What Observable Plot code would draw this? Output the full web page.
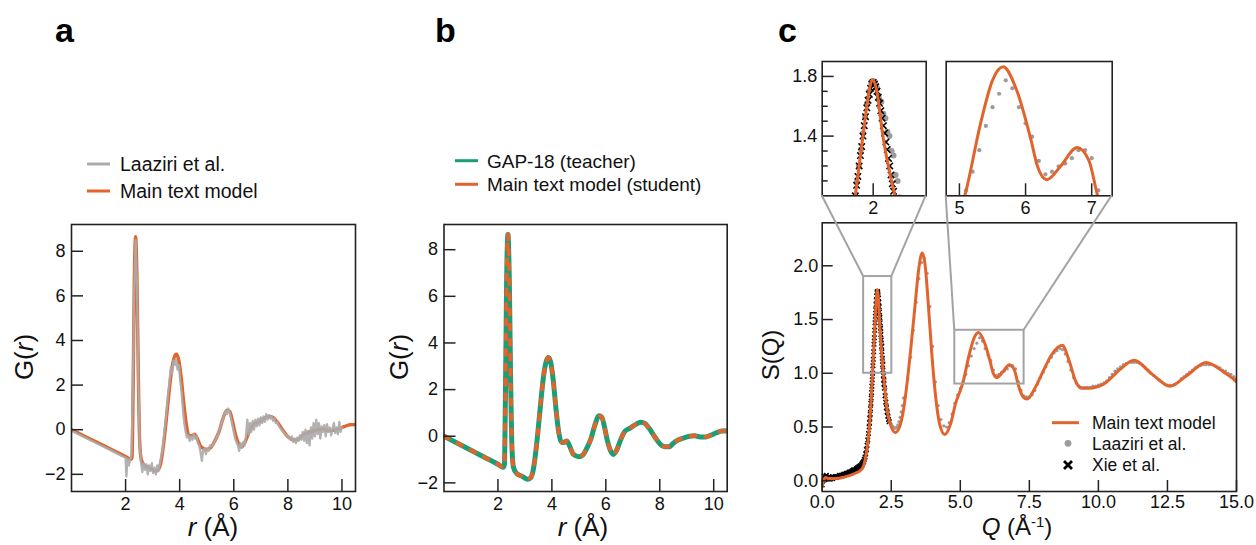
<!DOCTYPE html>
<html><head><meta charset="utf-8">
<script src="https://cdn.jsdelivr.net/npm/d3@7"></script>
<script src="https://cdn.jsdelivr.net/npm/@observablehq/plot@0.6"></script>
<style>
html,body{margin:0;padding:0;background:#fff;}
#fig{position:relative;width:1256px;height:545px;overflow:hidden;background:#fff;}
</style></head><body><div id="fig"></div>
<script>
// ---------------- DATA ----------------
// Panel a/b: G(r) of the main text model (student); GAP-18 teacher is indistinguishable
const gModel = [[0,0],[0.5,-0.3],[1.0,-0.6],[1.5,-0.9],[2.0,-1.2],[2.2,-1.33],[2.24,-1.2],[2.28,2.0],[2.32,6.5],[2.37,8.65],[2.42,6.8],[2.47,2.5],[2.52,-0.5],[2.58,-1.35],[2.7,-1.6],[2.9,-1.72],[3.1,-1.85],[3.2,-1.8],[3.3,-1.5],[3.4,-0.7],[3.5,0.4],[3.6,1.6],[3.7,2.65],[3.8,3.25],[3.87,3.38],[3.95,3.2],[4.05,2.4],[4.15,1.2],[4.25,0.2],[4.35,-0.25],[4.45,-0.27],[4.55,-0.2],[4.65,-0.4],[4.8,-0.78],[5.0,-0.88],[5.15,-0.8],[5.3,-0.5],[5.45,-0.1],[5.6,0.5],[5.75,0.88],[5.85,0.82],[5.95,0.4],[6.05,-0.15],[6.15,-0.55],[6.28,-0.78],[6.4,-0.6],[6.55,-0.15],[6.7,0.2],[6.9,0.35],[7.1,0.5],[7.3,0.6],[7.45,0.55],[7.6,0.35],[7.8,0.0],[8.0,-0.32],[8.2,-0.45],[8.35,-0.45],[8.5,-0.3],[8.7,-0.15],[8.9,-0.07],[9.1,0.0],[9.3,0.02],[9.5,-0.03],[9.7,-0.03],[9.9,0.05],[10.1,0.15],[10.3,0.22],[10.5,0.23]];
const gTeacher = [[0,0],[0.5,-0.3],[1.0,-0.6],[1.5,-0.9],[2.0,-1.2],[2.2,-1.33],[2.24,-1.2],[2.28,2.0],[2.32,6.5],[2.37,8.65],[2.42,6.8],[2.47,2.5],[2.52,-0.5],[2.58,-1.35],[2.7,-1.6],[2.9,-1.72],[3.1,-1.85],[3.2,-1.8],[3.3,-1.5],[3.4,-0.7],[3.5,0.4],[3.6,1.6],[3.7,2.65],[3.8,3.25],[3.87,3.38],[3.95,3.2],[4.05,2.4],[4.15,1.2],[4.25,0.2],[4.35,-0.25],[4.45,-0.27],[4.55,-0.2],[4.65,-0.4],[4.8,-0.78],[5.0,-0.88],[5.15,-0.8],[5.3,-0.5],[5.45,-0.1],[5.6,0.5],[5.75,0.88],[5.85,0.82],[5.95,0.4],[6.05,-0.15],[6.15,-0.55],[6.28,-0.78],[6.4,-0.6],[6.55,-0.15],[6.7,0.2],[6.9,0.35],[7.1,0.5],[7.3,0.6],[7.45,0.55],[7.6,0.35],[7.8,0.0],[8.0,-0.32],[8.2,-0.45],[8.35,-0.45],[8.5,-0.3],[8.7,-0.15],[8.9,-0.07],[9.1,0.0],[9.3,0.02],[9.5,-0.03],[9.7,-0.03],[9.9,0.05],[10.1,0.15],[10.3,0.22],[10.5,0.23]];
// Panel a: Laaziri et al. experimental G(r) (noisy)
const gLaaziri = [[0,-0.05],[0.5,-0.35],[1.0,-0.65],[1.5,-0.95],[1.9,-1.2],[2.0,-1.25],[2.03,-2.1],[2.07,-1.3],[2.12,-1.6],[2.17,-1.35],[2.22,-1.1],[2.27,2.0],[2.32,6.3],[2.37,8.5],[2.42,6.6],[2.47,2.3],[2.52,-0.6],[2.57,-1.5],[2.62,-1.9],[2.67,-1.5],[2.72,-1.8],[2.77,-1.55],[2.82,-2.0],[2.87,-1.6],[2.92,-1.85],[2.97,-1.5],[3.02,-1.95],[3.07,-1.7],[3.12,-2.0],[3.17,-1.6],[3.22,-1.85],[3.27,-1.5],[3.32,-1.2],[3.37,-0.9],[3.42,-0.3],[3.47,0.3],[3.52,0.9],[3.57,1.6],[3.62,2.1],[3.67,2.8],[3.72,2.5],[3.77,3.1],[3.82,2.9],[3.87,3.2],[3.92,2.7],[3.97,2.9],[4.02,2.2],[4.07,1.7],[4.12,0.9],[4.17,0.3],[4.22,-0.1],[4.27,-0.35],[4.32,-0.25],[4.37,-0.5],[4.42,-0.3],[4.47,-0.45],[4.52,-0.2],[4.57,-0.4],[4.62,-0.3],[4.67,-0.6],[4.72,-0.7],[4.77,-1.0],[4.82,-1.4],[4.87,-0.9],[4.92,-0.85],[4.97,-1.1],[5.02,-0.85],[5.07,-0.95],[5.12,-0.7],[5.2,-0.75],[5.3,-0.5],[5.4,-0.25],[5.5,0.1],[5.6,0.5],[5.7,0.85],[5.75,0.7],[5.8,0.95],[5.85,0.75],[5.9,0.5],[5.95,0.2],[6.0,-0.1],[6.05,-0.4],[6.1,-0.55],[6.15,-0.7],[6.2,-0.95],[6.25,-0.6],[6.3,-0.8],[6.35,-0.55],[6.4,-0.7],[6.45,-0.3],[6.5,0.45],[6.55,-0.2],[6.6,0.3],[6.65,-0.1],[6.7,0.4],[6.75,0.0],[6.8,0.45],[6.85,0.15],[6.9,0.5],[6.95,0.2],[7.0,0.55],[7.05,0.3],[7.1,0.6],[7.15,0.35],[7.2,0.7],[7.25,0.45],[7.3,0.65],[7.35,0.5],[7.4,0.6],[7.45,0.4],[7.5,0.5],[7.55,0.3],[7.6,0.35],[7.7,0.1],[7.8,-0.05],[7.9,-0.2],[8.0,-0.3],[8.1,-0.45],[8.15,-0.3],[8.2,-0.55],[8.25,-0.4],[8.3,-0.6],[8.35,-0.35],[8.4,-0.5],[8.45,-0.25],[8.5,-0.45],[8.55,-0.1],[8.6,-0.5],[8.65,0.0],[8.7,-0.6],[8.75,-0.05],[8.8,-0.7],[8.85,0.1],[8.9,-0.4],[8.95,0.3],[9.0,-0.3],[9.05,0.45],[9.1,-0.2],[9.15,0.3],[9.2,-0.4],[9.25,0.15],[9.3,-0.1],[9.35,0.2],[9.4,-0.3],[9.45,0.25],[9.5,-0.1],[9.55,0.1],[9.6,-0.25],[9.65,0.05],[9.7,0.3],[9.75,-0.15],[9.8,0.1],[9.85,-0.2],[9.9,0.35],[9.95,-0.1],[10.0,0.1]];

// Panel c: S(Q)
const sModel = [[0,-0.05],[0.05,0.0],[0.12,0.03],[0.25,0.02],[0.5,0.02],[0.75,0.03],[1.0,0.05],[1.2,0.07],[1.4,0.1],[1.5,0.14],[1.6,0.26],[1.7,0.47],[1.8,0.88],[1.9,1.4],[1.96,1.7],[1.99,1.78],[2.03,1.72],[2.1,1.38],[2.17,1.13],[2.25,0.9],[2.35,0.66],[2.5,0.5],[2.65,0.45],[2.8,0.5],[2.95,0.67],[3.05,0.86],[3.2,1.21],[3.35,1.6],[3.5,1.98],[3.62,2.12],[3.72,2.02],[3.84,1.65],[3.96,1.21],[4.1,0.8],[4.25,0.53],[4.44,0.43],[4.65,0.53],[4.83,0.72],[5.0,0.84],[5.08,0.9],[5.32,1.17],[5.5,1.33],[5.66,1.38],[5.87,1.29],[6.08,1.11],[6.18,1.01],[6.32,0.96],[6.53,1.01],[6.78,1.08],[6.96,1.03],[7.09,0.9],[7.25,0.79],[7.42,0.76],[7.7,0.86],[8.0,1.02],[8.3,1.17],[8.69,1.26],[8.95,1.11],[9.17,0.93],[9.4,0.86],[9.65,0.86],[10.2,0.9],[10.8,1.04],[11.29,1.12],[11.95,0.99],[12.59,0.88],[13.21,0.98],[13.9,1.1],[14.54,1.01],[14.96,0.93],[15.0,0.92]];
const sLaaziri = [[1.5,0.14],[1.54,0.17],[1.58,0.22],[1.62,0.29],[1.66,0.38],[1.7,0.49],[1.72,0.56],[1.74,0.63],[1.76,0.71],[1.78,0.8],[1.8,0.89],[1.82,0.98],[1.84,1.09],[1.86,1.2],[1.88,1.31],[1.9,1.42],[1.92,1.53],[1.94,1.62],[1.96,1.7],[1.98,1.76],[2.0,1.77],[2.02,1.75],[2.04,1.72],[2.06,1.65],[2.08,1.63],[2.1,1.55],[2.12,1.52],[2.14,1.43],[2.16,1.4],[2.18,1.3],[2.2,1.27],[2.22,1.14],[2.24,1.1],[2.26,0.99],[2.28,0.95],[2.3,0.86],[2.32,0.8],[2.34,0.75],[2.36,0.71],[2.38,0.67],[2.4,0.64],[2.42,0.61],[2.46,0.56],[2.5,0.53],[2.54,0.51],[2.58,0.5],[2.62,0.49],[2.66,0.49],[2.7,0.5],[2.74,0.52],[2.78,0.55],[2.82,0.59],[2.86,0.64],[2.9,0.7],[2.94,0.77],[3.0,0.78],[3.1,0.95],[3.2,1.15],[3.3,1.4],[3.4,1.66],[3.5,1.88],[3.6,2.03],[3.7,2.07],[3.8,1.93],[3.9,1.62],[4.0,1.25],[4.1,0.92],[4.2,0.7],[4.3,0.57],[4.4,0.51],[4.5,0.5],[4.6,0.54],[4.7,0.62],[4.8,0.72],[4.9,0.8],[5.0,0.86],[5.1,0.92],[5.2,0.99],[5.3,1.07],[5.4,1.16],[5.5,1.23],[5.6,1.28],[5.7,1.33],[5.8,1.3],[5.9,1.23],[6.0,1.17],[6.1,1.12],[6.2,1.03],[6.3,0.98],[6.4,0.99],[6.5,1.01],[6.6,1.02],[6.7,1.04],[6.8,1.07],[6.9,1.07],[7.0,1.04],[7.1,0.92],[7.2,0.84],[7.3,0.79],[7.4,0.78],[7.5,0.78],[7.6,0.8],[7.7,0.84],[7.8,0.9],[7.9,0.96],[8.0,1.01],[8.1,1.06],[8.2,1.11],[8.3,1.15],[8.4,1.19],[8.5,1.21],[8.6,1.23],[8.7,1.22],[8.8,1.18],[8.9,1.11],[9.0,1.03],[9.1,0.96],[9.2,0.91],[9.3,0.88],[9.4,0.87],[9.5,0.87],[9.6,0.87],[9.7,0.87],[9.8,0.88],[9.9,0.88],[10.0,0.89],[10.1,0.9],[10.2,0.91],[10.3,0.93],[10.4,0.96],[10.5,0.99],[10.6,1.02],[10.7,1.04],[10.8,1.06],[10.9,1.08],[11.0,1.09],[11.1,1.1],[11.2,1.1],[11.3,1.1],[11.4,1.1],[11.5,1.09],[11.6,1.07],[11.7,1.05],[11.8,1.03],[11.9,1.0],[12.0,0.98],[12.1,0.96],[12.2,0.94],[12.3,0.92],[12.4,0.9],[12.5,0.89],[12.6,0.89],[12.7,0.89],[12.8,0.9],[12.9,0.92],[13.0,0.95],[13.1,0.97],[13.2,0.99],[13.3,1.01],[13.4,1.03],[13.5,1.05],[13.6,1.06],[13.7,1.07],[13.8,1.08],[13.9,1.08],[14.0,1.08],[14.1,1.08],[14.2,1.07],[14.3,1.06],[14.4,1.05],[14.5,1.03],[14.6,1.02],[14.7,1.0],[14.8,0.99],[14.9,0.97],[15.0,0.95]];
const sXie = [[0,-0.04],[0.025,0.0],[0.05,0.04],[0.075,0.02],[0.1,0.01],[0.125,0.04],[0.15,0.05],[0.175,0.03],[0.2,0.02],[0.225,0.03],[0.25,0.04],[0.275,0.02],[0.3,0.02],[0.325,0.03],[0.35,0.03],[0.375,0.02],[0.4,0.03],[0.425,0.03],[0.45,0.03],[0.475,0.04],[0.5,0.03],[0.525,0.04],[0.55,0.04],[0.575,0.04],[0.6,0.04],[0.625,0.05],[0.65,0.04],[0.675,0.05],[0.7,0.05],[0.725,0.05],[0.75,0.05],[0.775,0.06],[0.8,0.06],[0.825,0.06],[0.85,0.06],[0.875,0.07],[0.9,0.07],[0.925,0.07],[0.95,0.07],[0.975,0.08],[1.0,0.08],[1.025,0.08],[1.05,0.08],[1.075,0.09],[1.1,0.09],[1.125,0.1],[1.15,0.1],[1.175,0.1],[1.2,0.1],[1.225,0.11],[1.25,0.11],[1.275,0.12],[1.3,0.12],[1.325,0.13],[1.35,0.13],[1.375,0.14],[1.4,0.14],[1.425,0.15],[1.45,0.16],[1.475,0.17],[1.5,0.18],[1.525,0.2],[1.55,0.22],[1.575,0.25],[1.6,0.29],[1.625,0.33],[1.65,0.38],[1.675,0.44],[1.7,0.5],[1.7125,0.54],[1.725,0.58],[1.7375,0.62],[1.75,0.67],[1.7625,0.72],[1.775,0.77],[1.7875,0.82],[1.8,0.88],[1.8125,0.94],[1.825,1.0],[1.8375,1.07],[1.85,1.13],[1.8625,1.2],[1.875,1.27],[1.8875,1.33],[1.9,1.4],[1.9125,1.47],[1.925,1.53],[1.9375,1.59],[1.95,1.64],[1.9625,1.68],[1.975,1.72],[1.9875,1.75],[2.0,1.76],[2.0125,1.75],[2.025,1.73],[2.0375,1.7],[2.05,1.66],[2.0625,1.62],[2.075,1.57],[2.0875,1.52],[2.1,1.47],[2.1125,1.42],[2.125,1.36],[2.1375,1.31],[2.15,1.25],[2.1625,1.2],[2.175,1.14],[2.1875,1.08],[2.2,1.03],[2.2125,0.98],[2.225,0.94],[2.2375,0.9],[2.25,0.86],[2.275,0.79],[2.3,0.73],[2.325,0.68],[2.35,0.64],[2.375,0.6],[2.4,0.57],[2.425,0.55]];

// ticks
const rTicks = [2, 4, 6, 8, 10];
const gTicks = [-2, 0, 2, 4, 6, 8];
const qTicks = [0, 2.5, 5, 7.5, 10, 12.5, 15];
const sTicks = [0, 0.5, 1, 1.5, 2];
const inset1YMajor = [1.4, 1.8];
const inset1YMinor = [1.1, 1.2, 1.3, 1.5, 1.6, 1.7];
const inset1XTicks = [2];
const inset2XTicks = [5, 6, 7];
// zoom windows (Q range, S range)
const zoom1Q = [1.5, 2.52], zoom1S = [1.0, 1.9];
const zoom2Q = [4.8, 7.31], zoom2S = [0.9, 1.4];

// ---------------- STYLE ----------------
const FONT = '"Liberation Sans", Arial, Helvetica, sans-serif';
const ORANGE = "#e2632b", GREEN = "#1a9e74", GRAYA = "#ababab", GRAYC = "#9c9c9c", FRAME = "#222", BOXC = "#a3a3a3";
const fig = document.getElementById("fig");
const X0 = d => d[0], Y1 = d => d[1];

function plotAt(left, top, opts) {
  const svg = Plot.plot({...opts, style: {fontFamily: FONT, fontSize: "18px", color: "#111", background: "none", overflow: "visible"}});
  svg.style.position = "absolute";
  svg.style.left = left + "px";
  svg.style.top = top + "px";
  fig.appendChild(svg);
  return svg;
}
const tickX = (vals, innerH, len) => Plot.ruleX(vals, {x: d => d, insetTop: innerH - len, stroke: FRAME, strokeWidth: 1.5});
const tickY = (vals, innerW, len) => Plot.ruleY(vals, {y: d => d, insetRight: innerW - len, stroke: FRAME, strokeWidth: 1.5});
const fInt = d3.format("d"), f1 = d3.format(".1f");

// ---------------- PANEL A ----------------
const A = {left: 0, top: 200, W: 372, H: 345, ml: 71, mr: 17, mt: 24, mb: 54};
plotAt(A.left, A.top, {
  width: A.W, height: A.H, marginLeft: A.ml, marginRight: A.mr, marginTop: A.mt, marginBottom: A.mb,
  x: {domain: [0, 10.5]}, y: {domain: [-2.77, 9.2]},
  marks: [
    Plot.line(gModel, {x: X0, y: Y1, stroke: ORANGE, strokeWidth: 3.4, curve: "monotone-x", clip: true}),
    Plot.line(gLaaziri, {x: X0, y: Y1, stroke: GRAYA, strokeWidth: 2.3, strokeOpacity: 0.92, clip: true}),
    Plot.frame({stroke: FRAME, strokeWidth: 1.6}),
    tickX(rTicks, A.H - A.mt - A.mb, 12),
    tickY(gTicks, A.W - A.ml - A.mr, 12),
    Plot.axisX(rTicks, {tickSize: 0, tickPadding: 6, tickFormat: fInt, label: null}),
    Plot.axisY(gTicks, {tickSize: 0, tickPadding: 6, tickFormat: fInt, label: null})
  ]
});

// ---------------- PANEL B ----------------
const B = {left: 372, top: 200, W: 372, H: 345, ml: 71.5, mr: 17.3, mt: 24, mb: 54};
plotAt(B.left, B.top, {
  width: B.W, height: B.H, marginLeft: B.ml, marginRight: B.mr, marginTop: B.mt, marginBottom: B.mb,
  x: {domain: [0, 10.5]}, y: {domain: [-2.37, 9.08]},
  marks: [
    Plot.line(gTeacher, {x: X0, y: Y1, stroke: GREEN, strokeWidth: 5, curve: "monotone-x", clip: true}),
    Plot.line(gModel, {x: X0, y: Y1, stroke: ORANGE, strokeWidth: 4, strokeDasharray: "5 10", curve: "monotone-x", clip: true}),
    Plot.frame({stroke: FRAME, strokeWidth: 1.6}),
    tickX(rTicks, B.H - B.mt - B.mb, 12),
    tickY(gTicks, B.W - B.ml - B.mr, 12),
    Plot.axisX(rTicks, {tickSize: 0, tickPadding: 6, tickFormat: fInt, label: null}),
    Plot.axisY(gTicks, {tickSize: 0, tickPadding: 6, tickFormat: fInt, label: null})
  ]
});

// ---------------- PANEL C INSETS ----------------
const I1 = {left: 760, top: 40, W: 175, H: 190, ml: 61.7, mr: 9.3, mt: 21, mb: 34.7};
const in1 = plotAt(I1.left, I1.top, {
  width: I1.W, height: I1.H, marginLeft: I1.ml, marginRight: I1.mr, marginTop: I1.mt, marginBottom: I1.mb,
  x: {domain: zoom1Q}, y: {domain: zoom1S},
  marks: [
    Plot.dot(sLaaziri, {x: X0, y: Y1, r: 3, fill: GRAYC, clip: true}),
    Plot.dot(sXie, {x: X0, y: Y1, symbol: "times", r: 3, stroke: "#000", strokeWidth: 1.6, clip: true}),
    Plot.line(sModel, {x: X0, y: Y1, stroke: ORANGE, strokeWidth: 3, curve: "monotone-x", clip: true}),
    Plot.frame({stroke: FRAME, strokeWidth: 1.6}),
    tickX(inset1XTicks, I1.H - I1.mt - I1.mb, 12),
    tickY(inset1YMajor, I1.W - I1.ml - I1.mr, 12),
    tickY(inset1YMinor, I1.W - I1.ml - I1.mr, 6),
    Plot.axisX(inset1XTicks, {tickSize: 0, tickPadding: 5, tickFormat: fInt, label: null}),
    Plot.axisY(inset1YMajor, {tickSize: 0, tickPadding: 5, tickFormat: f1, label: null})
  ]
});
const I2 = {left: 930, top: 40, W: 200, H: 190, ml: 15.7, mr: 18.3, mt: 21, mb: 34.7};
const in2 = plotAt(I2.left, I2.top, {
  width: I2.W, height: I2.H, marginLeft: I2.ml, marginRight: I2.mr, marginTop: I2.mt, marginBottom: I2.mb,
  x: {domain: zoom2Q}, y: {domain: zoom2S},
  marks: [
    Plot.dot(sLaaziri, {x: X0, y: Y1, r: 2.1, fill: GRAYC, clip: true}),
    Plot.line(sModel, {x: X0, y: Y1, stroke: ORANGE, strokeWidth: 3, curve: "monotone-x", clip: true}),
    Plot.frame({stroke: FRAME, strokeWidth: 1.6}),
    tickX(inset2XTicks, I2.H - I2.mt - I2.mb, 12),
    Plot.axisX(inset2XTicks, {tickSize: 0, tickPadding: 5, tickFormat: fInt, label: null}),
    Plot.axisY([], {tickSize: 0, label: null})
  ]
});

// ---------------- PANEL C MAIN ----------------
const C = {left: 744, top: 200, W: 512, H: 345, ml: 77.7, mr: 20, mt: 22.3, mb: 54};
const zoomBoxes = [{q: zoom1Q, s: zoom1S}, {q: zoom2Q, s: zoom2S}];
const cMain = plotAt(C.left, C.top, {
  width: C.W, height: C.H, marginLeft: C.ml, marginRight: C.mr, marginTop: C.mt, marginBottom: C.mb,
  x: {domain: [0, 15]}, y: {domain: [-0.1, 2.4]},
  marks: [
    Plot.dot(sLaaziri, {x: X0, y: Y1, r: 1.6, fill: GRAYC, clip: true}),
    Plot.dot(sXie, {x: X0, y: Y1, symbol: "times", r: 2.2, stroke: "#000", strokeWidth: 1.5, clip: true}),
    Plot.line(sModel, {x: X0, y: Y1, stroke: ORANGE, strokeWidth: 3, curve: "monotone-x", clip: true}),
    Plot.rect(zoomBoxes, {x1: d => d.q[0], x2: d => d.q[1], y1: d => d.s[0], y2: d => d.s[1], fill: "none", stroke: BOXC, strokeWidth: 2}),
    Plot.frame({stroke: FRAME, strokeWidth: 1.6}),
    tickX(qTicks, C.H - C.mt - C.mb, 11),
    tickY(sTicks, C.W - C.ml - C.mr, 11),
    Plot.axisX(qTicks, {tickSize: 0, tickPadding: 4, tickFormat: f1, label: null}),
    Plot.axisY(sTicks, {tickSize: 0, tickPadding: 4, tickFormat: f1, label: null})
  ]
});

// ---------------- OVERLAY: connectors, labels, legends ----------------
const ov = d3.select(fig).append("svg")
  .attr("width", 1256).attr("height", 545)
  .style("position", "absolute").style("left", "0px").style("top", "0px")
  .style("overflow", "visible").style("font-family", FONT).style("pointer-events", "none");

const cx = cMain.scale("x"), cy = cMain.scale("y");
const i1x = in1.scale("x"), i1y = in1.scale("y"), i2x = in2.scale("x"), i2y = in2.scale("y");
const MX = v => C.left + cx.apply(v), MY = v => C.top + cy.apply(v);
const connectors = [
  [I1.left + i1x.apply(zoom1Q[0]), I1.top + i1y.apply(zoom1S[0]), MX(zoom1Q[0]), MY(zoom1S[1])],
  [I1.left + i1x.apply(zoom1Q[1]), I1.top + i1y.apply(zoom1S[0]), MX(zoom1Q[1]), MY(zoom1S[1])],
  [I2.left + i2x.apply(zoom2Q[0]), I2.top + i2y.apply(zoom2S[0]), MX(zoom2Q[0]), MY(zoom2S[1])],
  [I2.left + i2x.apply(zoom2Q[1]), I2.top + i2y.apply(zoom2S[0]), MX(zoom2Q[1]), MY(zoom2S[1])]
];
ov.selectAll("line.conn").data(connectors).join("line").attr("class", "conn")
  .attr("x1", d => d[0]).attr("y1", d => d[1]).attr("x2", d => d[2]).attr("y2", d => d[3])
  .attr("stroke", BOXC).attr("stroke-width", 2);

// panel letters
[["a", 55], ["b", 435], ["c", 778]].forEach(([t, x]) =>
  ov.append("text").attr("x", x).attr("y", 42).attr("font-size", 34).attr("font-weight", "bold").attr("fill", "#000").text(t));

// axis labels
function axisLabel(x, y, size, rotate, parts) {
  const t = ov.append("text").attr("text-anchor", "middle").attr("font-size", size).attr("fill", "#111")
    .attr("transform", `translate(${x},${y})` + (rotate ? " rotate(-90)" : ""));
  parts.forEach(([s, style]) => {
    const ts = t.append("tspan").text(s);
    if (style === "i") ts.attr("font-style", "italic");
    if (style === "sup") ts.attr("font-size", size * 0.62).attr("baseline-shift", "super");
  });
}
axisLabel(213, 536, 26, false, [["r", "i"], [" (Å)"]]);
axisLabel(583, 536, 26, false, [["r", "i"], [" (Å)"]]);
axisLabel(1017, 535, 24, false, [["Q", "i"], [" (Å"], ["-1", "sup"], [")"]]);
axisLabel(33, 357, 26, true, [["G("], ["r", "i"], [")"]]);
axisLabel(408, 357, 26, true, [["G("], ["r", "i"], [")"]]);
axisLabel(779, 355, 24, true, [["S(Q)"]]);

// legends
function legLine(x1, x2, y, color, text, tx, size) {
  ov.append("line").attr("x1", x1).attr("x2", x2).attr("y1", y).attr("y2", y).attr("stroke", color).attr("stroke-width", 3);
  ov.append("text").attr("x", tx).attr("y", y).attr("dy", "0.36em").attr("font-size", size).attr("fill", "#111").text(text);
}
legLine(87, 110, 164, GRAYA, "Laaziri et al.", 120, 19.5);
legLine(87, 110, 191, ORANGE, "Main text model", 120, 19.5);
legLine(455, 478, 160.7, GREEN, "GAP-18 (teacher)", 487, 19);
legLine(455, 478, 184.3, ORANGE, "Main text model (student)", 487, 19);
legLine(1052, 1079, 422.7, ORANGE, "Main text model", 1092, 17.5);
ov.append("circle").attr("cx", 1068).attr("cy", 443.3).attr("r", 3.4).attr("fill", GRAYC);
ov.append("text").attr("x", 1092).attr("y", 443.3).attr("dy", "0.36em").attr("font-size", 17.5).attr("fill", "#111").text("Laaziri et al.");
ov.append("path").attr("d", "M1064,461L1072,469M1064,469L1072,461").attr("stroke", "#000").attr("stroke-width", 2.8);
ov.append("text").attr("x", 1092).attr("y", 465).attr("dy", "0.36em").attr("font-size", 17.5).attr("fill", "#111").text("Xie et al.");
</script></body></html>
